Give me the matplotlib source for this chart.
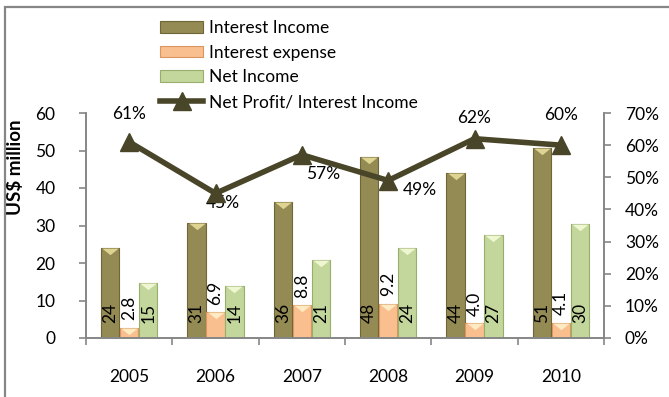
import numpy as np
import matplotlib.pyplot as plt
from matplotlib.patches import Rectangle
from matplotlib.ticker import PercentFormatter

plt.rcParams['font.family'] = ['Lato', 'DejaVu Sans']

years = ['2005', '2006', '2007', '2008', '2009', '2010']
interest_income = [24.1, 30.6, 36.3, 48.4, 43.9, 50.7]
interest_expense = [2.8, 6.9, 8.8, 9.2, 4.0, 4.1]
net_income = [14.8, 13.9, 20.8, 24.1, 27.4, 30.4]
profit_ratio = [0.61, 0.45, 0.57, 0.49, 0.62, 0.60]
ratio_text = ['61%', '45%', '57%', '49%', '62%', '60%']
# label offsets for the ratio line (points)
ratio_offset = [(0, 20), (5, -7), (15, -14), (23, -7), (0, 15), (0, 22)]

c_income = '#948a54'
c_expense = '#fabf8f'
c_net = '#c3d69b'
c_line = '#494529'
c_axis = '#868686'

fig = plt.figure(figsize=(6.69, 3.97), dpi=100)
ax = fig.add_axes([86 / 669, 1 - 338 / 397, 518 / 669, 225 / 397])
ax2 = ax.twinx()

# chart frame
fig.patches.append(Rectangle((5 / 669, -0.05), 1.1, 1 - 7 / 397 + 0.05,
                             transform=fig.transFigure, fill=False,
                             edgecolor=c_axis, lw=1.6, zorder=0))

x = np.arange(len(years))
w = 0.21
series = [(interest_income, c_income, '#6f6638', '#e8dc9a', 'Interest Income', -0.22),
          (interest_expense, c_expense, '#d9965e', '#fff0c8', 'Interest expense', 0.0),
          (net_income, c_net, '#98ae6c', '#f4fbd8', 'Net Income', 0.22)]
for vals, col, edge, shine, name, off in series:
    ax.bar(x + off, vals, w, color=col, edgecolor=edge, linewidth=0.8,
           label=name, zorder=2)
    # light bevel triangle on top of each bar
    ax.plot(x + off, vals, ls='none', marker=[(-1, 0), (1, 0), (0, -0.8)],
            ms=12, color=shine, alpha=0.9, mec='none', zorder=3)

# value labels
for i in range(len(years)):
    ax.text(x[i] - 0.22, 4, f'{interest_income[i]:.0f}', rotation=90,
            ha='center', va='bottom', fontsize=12.5, zorder=4)
    ax.text(x[i] + 0.22, 4, f'{net_income[i]:.0f}', rotation=90,
            ha='center', va='bottom', fontsize=12.5, zorder=4)
    ax.text(x[i], interest_expense[i] + 2.0, f'{interest_expense[i]:.1f}',
            rotation=90, ha='center', va='bottom', fontsize=12.5, zorder=4)

ax2.plot(x, profit_ratio, color=c_line, lw=4, marker='^', ms=13,
         label='Net Profit/ Interest Income', zorder=5)
for i in range(len(years)):
    ax2.annotate(ratio_text[i], (x[i], profit_ratio[i]),
                 xytext=ratio_offset[i], textcoords='offset points',
                 ha='center', va='center', fontsize=12.5)

ax.set_xlim(-0.5, 5.5)
ax.set_ylim(0, 60)
ax.set_yticks(range(0, 61, 10))
ax2.set_ylim(0, 0.70)
ax2.set_yticks(np.arange(0, 0.71, 0.1))
ax2.yaxis.set_major_formatter(PercentFormatter(1.0, decimals=0))

ax.set_xticks(np.arange(-0.5, 6, 1))
ax.set_xticklabels([])
ax.set_xticks(x, minor=True)
ax.set_xticklabels(years, minor=True)
ax.tick_params(axis='x', which='major', length=5, color=c_axis, width=1.2)
ax.tick_params(axis='x', which='minor', length=0, pad=22, labelsize=12.5)
ax.tick_params(axis='y', length=5, color=c_axis, width=1.2, pad=17, labelsize=12.5)
ax2.tick_params(axis='y', length=5, color=c_axis, width=1.2, pad=10, labelsize=12.5)

for a in (ax, ax2):
    a.spines['top'].set_visible(False)
    for s in ('left', 'right', 'bottom'):
        a.spines[s].set_color(c_axis)
        a.spines[s].set_linewidth(1.2)

ax.set_ylabel('US$ million', fontweight='bold', fontsize=13.5)
ax.yaxis.set_label_coords(-0.12, 0.76)

h1, l1 = ax.get_legend_handles_labels()
h2, l2 = ax2.get_legend_handles_labels()
fig.legend(h1 + h2, l1 + l2, loc='upper left', bbox_to_anchor=(160 / 669, 1 - 20 / 397),
           frameon=False, fontsize=12.5, handlelength=2.5, handleheight=0.65,
           handletextpad=0.35, labelspacing=0.5, borderpad=0, borderaxespad=0)

fig.savefig('out.png', dpi=100)
